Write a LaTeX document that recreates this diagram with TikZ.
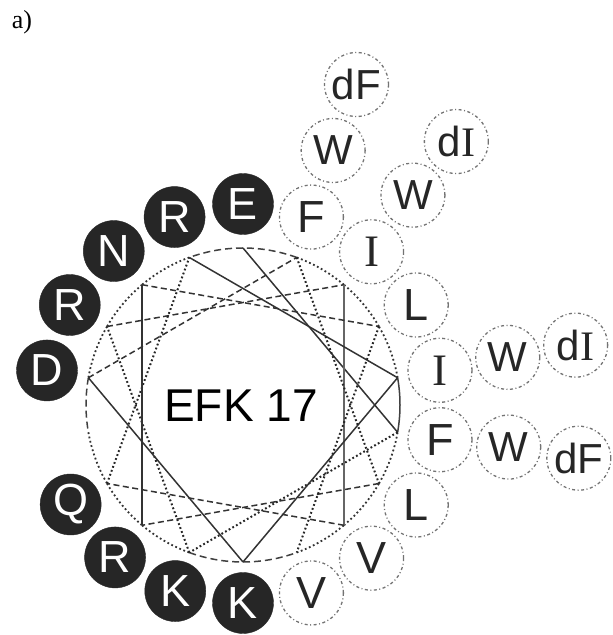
\documentclass[tikz,border=0pt]{standalone}
\usepackage{fontspec}
\setmainfont{Liberation Sans}
\newfontfamily\serifface{Liberation Serif}
\usetikzlibrary{calc}

\begin{document}
\begin{tikzpicture}[x=1pt,y=1pt,
  wheelline/.style={line width=1.5pt, draw=black!80},
  solidchord/.style={wheelline},
  dashchord/.style={wheelline, dash pattern=on 6pt off 3.5pt},
  dotchord/.style={wheelline, draw=black!85, line width=2pt, dash pattern=on 1.8pt off 2.4pt},
  rimdash/.style={wheelline, draw=black!75, dash pattern=on 7pt off 4pt},
  rimdot/.style={wheelline, draw=black!80, line width=1.8pt, dash pattern=on 1.8pt off 2.6pt},
  rimsolid/.style={wheelline, draw=black!75},
  charged/.style={circle, fill=black!85, draw=black!85, minimum size=61pt,
    inner sep=0pt, text=white, font=\fontsize{45}{45}\selectfont},
  apolar/.style={circle, draw=black!55, line width=1.3pt,
    dash pattern=on 3pt off 2.5pt on 1pt off 2.5pt, minimum size=64pt,
    inner sep=0pt, text=black!85, font=\fontsize{45}{45}\selectfont},
  variant/.style={apolar, font=\fontsize{42}{42}\selectfont},
]
\useasboundingbox (0,0) rectangle (613,635);

% panel label
\node[font=\serifface\fontsize{26}{26}\selectfont, inner sep=0pt] (panel) at (22,613) {a)};

% wheel centre and the 18 positions on the rim (every 20 degrees)
\coordinate (C) at (243,230);
\foreach \a in {10,30,...,350}
  \coordinate (v\a) at ($(C)+(\a:157)$);

% rim, drawn piecewise between neighbouring positions
\foreach \a/\s in {10/rimdot,30/rimdot,50/rimdot,70/rimdash,90/rimdash,
                   110/rimdot,130/rimdot,150/rimdot,170/rimdash,190/rimdot,
                   210/rimdot,230/rimdot,250/rimdash,270/rimdash,290/rimdot,
                   310/rimdot,330/rimdot,350/rimsolid}
  \draw[\s] (v\a) arc[start angle=\a, delta angle=20, radius=157];

% backbone: residue i to residue i+1 (100 degrees per residue)
\draw[solidchord] (v90)  -- (v350); % 1-2
\draw[dotchord]   (v350) -- (v250); % 2-3
\draw[dotchord]   (v250) -- (v150); % 3-4
\draw[dashchord]  (v150) -- (v50);  % 4-5
\draw[solidchord, draw=black!60] (v50) -- (v310); % 5-6
\draw[dashchord]  (v310) -- (v210); % 6-7
\draw[dotchord]   (v210) -- (v110); % 7-8
\draw[solidchord] (v110) -- (v10);  % 8-9
\draw[solidchord] (v10)  -- (v270); % 9-10
\draw[solidchord] (v270) -- (v170); % 10-11
\draw[dashchord]  (v170) -- (v70);  % 11-12
\draw[dotchord]   (v70)  -- (v330); % 12-13
\draw[dashchord]  (v330) -- (v230); % 13-14
\draw[solidchord] (v230) -- (v130); % 14-15
\draw[dashchord]  (v130) -- (v30);  % 15-16
\draw[dotchord]   (v30)  -- (v290); % 16-17

% peptide name
\node[font=\fontsize{46}{46}\selectfont, inner sep=0pt] (name) at (241,229) {EFK 17};

% residues: charged/polar (filled) and hydrophobic (open)
\node[charged] (r1)  at ($(C)+(90:201)$)  {E};
\node[apolar]  (r2)  at ($(C)+(-10:200)$) {F};
\node[charged] (r3)  at ($(C)+(250:198)$) {K};
\node[charged] (r4)  at ($(C)+(150:200)$) {R};
\node[apolar]  (r5)  at ($(C)+(50:200)$)  {\serifface I};
\node[apolar]  (r6)  at ($(C)+(-50:200)$) {V};
\node[charged] (r7)  at ($(C)+(210:199)$) {Q};
\node[charged] (r8)  at ($(C)+(110:200)$) {R};
\node[apolar]  (r9)  at ($(C)+(10:200)$)  {\serifface I};
\node[charged] (r10) at ($(C)+(270:198)$) {K};
\node[charged] (r11) at ($(C)+(170:199)$) {D};
\node[apolar]  (r12) at ($(C)+(70:200)$)  {F};
\node[apolar]  (r13) at ($(C)+(-30:200)$) {L};
\node[charged] (r14) at ($(C)+(230:199)$) {R};
\node[charged] (r15) at ($(C)+(130:201)$) {N};
\node[apolar]  (r16) at ($(C)+(30:200)$)  {L};
\node[apolar]  (r17) at ($(C)+(-70:200)$) {V};

% substitutions at the four aromatic/aliphatic positions
\node[variant] (w2)  at ($(C)+(-9:269)$)   {W};
\node[variant] (d2)  at ($(C)+(-9:340)$)   {dF};
\node[variant] (w5)  at ($(C)+(51:270)$)   {W};
\node[variant] (d5)  at ($(C)+(51:339)$)   {d{\serifface I}};
\node[variant] (w9)  at ($(C)+(10.2:269)$) {W};
\node[variant] (d9)  at ($(C)+(10.2:338)$) {d{\serifface I}};
\node[variant] (w12) at ($(C)+(70.5:270)$) {W};
\node[variant] (d12) at ($(C)+(70.5:340)$) {dF};
\end{tikzpicture}
\end{document}
